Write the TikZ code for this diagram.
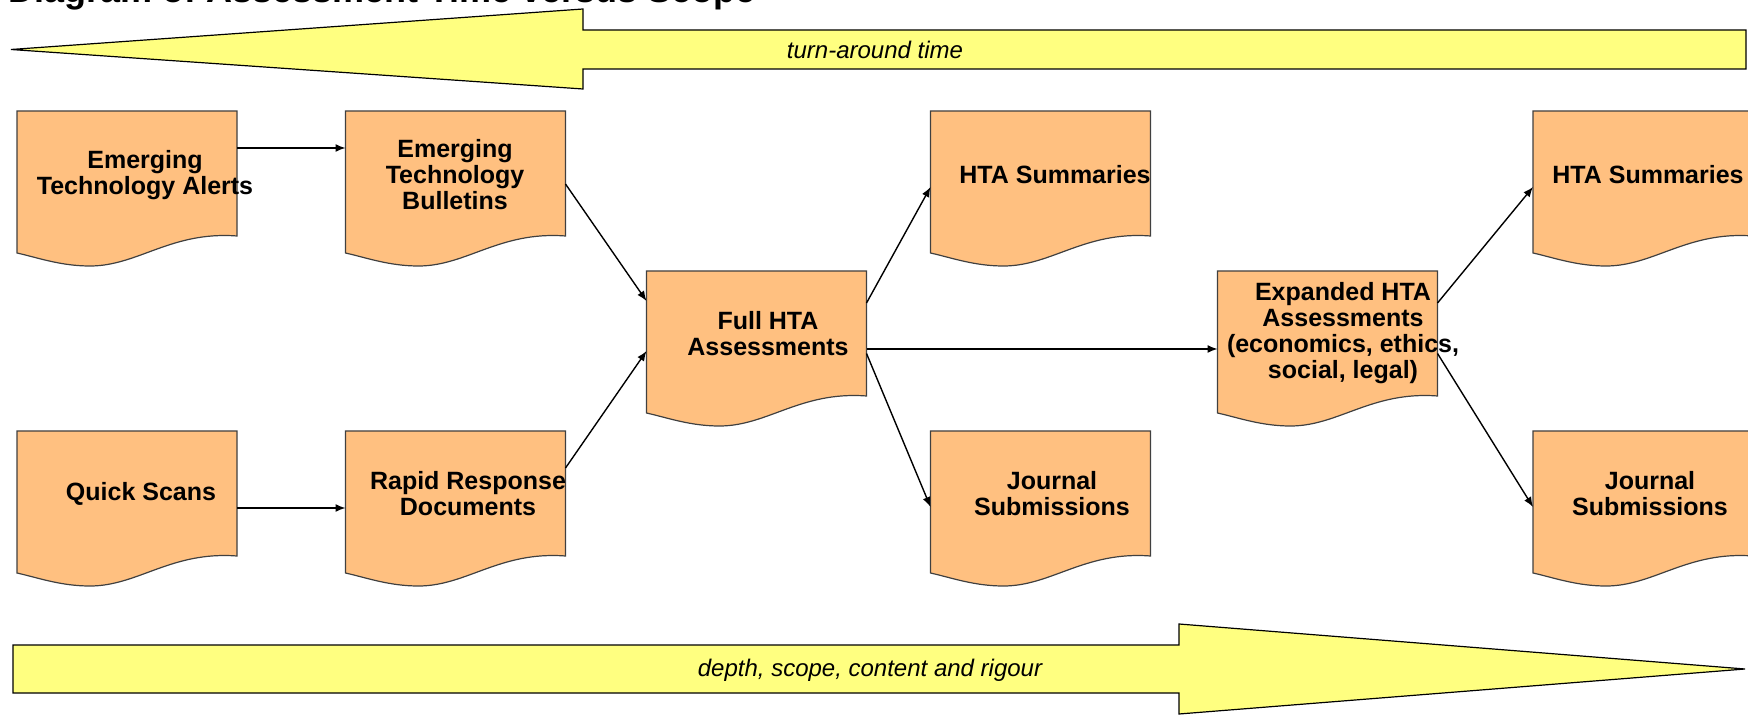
\documentclass[tikz,border=0pt]{standalone}
\usepackage{fontspec}
\setmainfont{Liberation Sans}
\usetikzlibrary{calc,arrows.meta}
\definecolor{docfill}{RGB}{255,192,128}
\definecolor{arrowfill}{RGB}{255,255,128}
\tikzset{
 docbox/.style={draw=none, minimum width=110pt, minimum height=62.5pt, inner sep=0pt, outer sep=0pt},
 doctext/.style={font=\bfseries\fontsize{12.5}{13}\selectfont, align=center, inner sep=0pt},
 docline/.style={draw=black!75, line width=0.6pt, fill=docfill},
 conn/.style={draw=black, line width=0.7pt, -{Latex[length=5pt,width=4pt]}},
 bigarrow/.style={draw=black, line width=0.6pt, fill=arrowfill, line join=miter},
 arrowlabel/.style={font=\itshape\fontsize{12}{14}\selectfont, inner sep=0pt},
}
\newcommand\docoutline[1]{%
 \path[docline] (#1.north west) -- (#1.north east) -- (#1.south east)
   .. controls ($(#1.south west)+(154,-5)$) and ($(#1.south west)+(121,30)$) .. ($(#1.south west)+(73,30)$)
   .. controls ($(#1.south west)+(44,30)$) and ($(#1.south west)+(22,22)$) .. ($(#1.south west)+(0,17)$) -- cycle;}
\begin{document}
\begin{tikzpicture}[x={(0.5pt,0)}, y={(0,-0.5pt)}]
\useasboundingbox (0,0) rectangle (1748,715);
% title (cut off at top)
\node[anchor=base west, font=\bfseries\fontsize{18}{20}\selectfont, inner sep=0pt] (title) at (8,3) {Diagram of Assessment Time versus Scope};
% big arrows
\draw[bigarrow] (11,49.5) -- (583,9) -- (583,30) -- (1746,30) -- (1746,69) -- (583,69) -- (583,89) -- cycle;
\draw[bigarrow] (13,645) -- (1179,645) -- (1179,624) -- (1745,669) -- (1179,714) -- (1179,693) -- (13,693) -- cycle;
\node[arrowlabel] (lt) at (875,50) {turn-around time};
\node[arrowlabel] (lb) at (870,670) {depth, scope, content and rigour};
% document boxes
\node[docbox] (b1) at (127,173.5) {};
\node[docbox] (b2) at (455.5,173.5) {};
\node[docbox] (b3) at (756.5,333.5) {};
\node[docbox] (b4) at (1040.5,173.5) {};
\node[docbox] (b5) at (1327.5,333.5) {};
\node[docbox] (b6) at (1643,173.5) {};
\node[docbox] (b7) at (127,493.5) {};
\node[docbox] (b8) at (455.5,493.5) {};
\node[docbox] (b9) at (1040.5,493.5) {};
\node[docbox] (b10) at (1643,493.5) {};
\docoutline{b1}\docoutline{b2}\docoutline{b3}\docoutline{b4}\docoutline{b5}
\docoutline{b6}\docoutline{b7}\docoutline{b8}\docoutline{b9}\docoutline{b10}
% texts
\node[doctext] (t1) at (145,175) {Emerging\\Technology Alerts};
\node[doctext] (t2) at (455,175) {Emerging\\Technology\\Bulletins};
\node[doctext] (t3) at (768,334) {Full HTA\\Assessments};
\node[doctext] (t4) at (1055,175) {HTA Summaries};
\node[doctext] (t5) at (1343,333) {Expanded HTA\\Assessments\\(economics, ethics,\\social, legal)};
\node[doctext] (t6) at (1648,175) {HTA Summaries};
\node[doctext] (t7) at (141,494) {Quick Scans};
\node[doctext] (t8) at (468,494) {Rapid Response\\Documents};
\node[doctext] (t9) at (1052,494) {Journal\\Submissions};
\node[doctext] (t10) at (1650,494) {Journal\\Submissions};
% connectors
\draw[conn] ($(b1.east)+(0,-25.5)$) -- ($(b2.west)+(0,-25.5)$);
\draw[conn] ($(b7.east)+(0,14.5)$) -- ($(b8.west)+(0,14.5)$);
\draw[conn] ($(b2.east)+(0,10.5)$) -- ($(b3.west)+(0,-32.5)$);
\draw[conn] ($(b8.east)+(0,-25.5)$) -- ($(b3.west)+(0,17.5)$);
\draw[conn] ($(b3.east)+(0,-30.5)$) -- ($(b4.west)+(0,13.5)$);
\draw[conn] ($(b3.east)+(0,15.5)$) -- ($(b5.west)+(0,15.5)$);
\draw[conn] ($(b3.east)+(0,20)$) -- ($(b9.west)+(0,13.5)$);
\draw[conn] ($(b5.east)+(0,-30.5)$) -- ($(b6.west)+(0,13.5)$);
\draw[conn] ($(b5.east)+(0,20)$) -- ($(b10.west)+(0,13.5)$);
\end{tikzpicture}
\end{document}
